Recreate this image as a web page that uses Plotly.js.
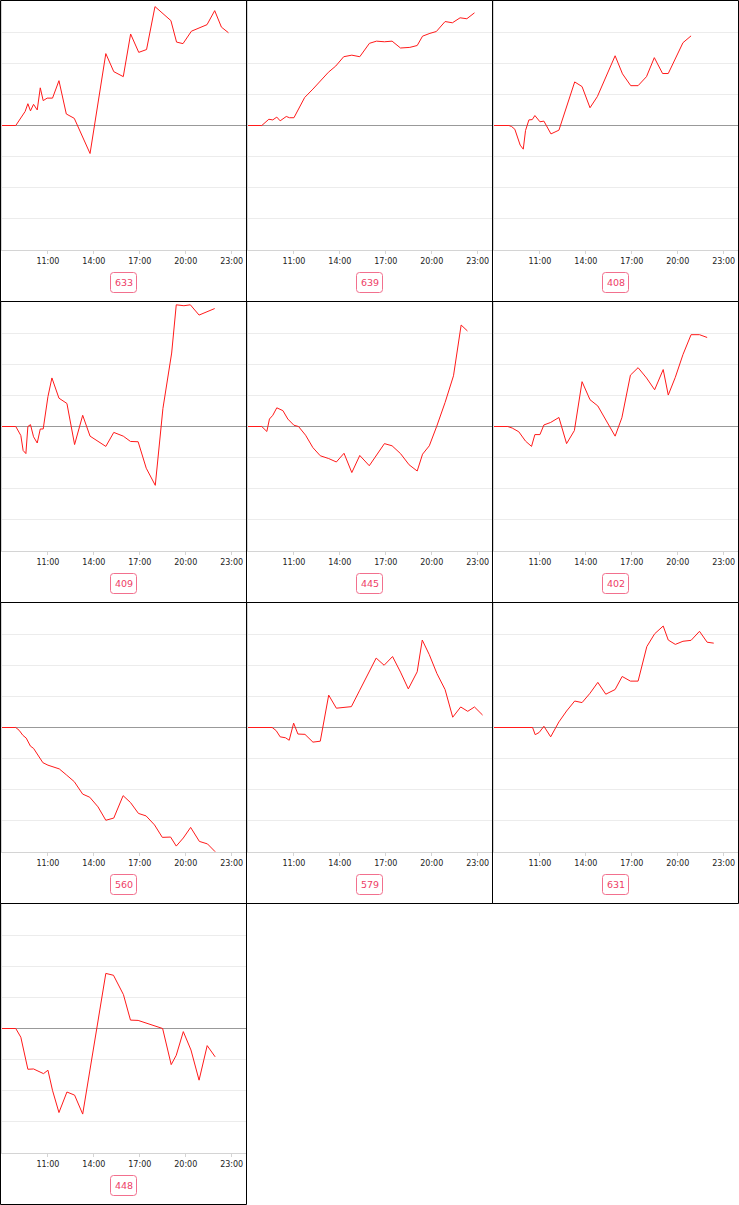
<!DOCTYPE html>
<html><head><meta charset="utf-8">
<script src="https://cdn.plot.ly/plotly-3.0.1.min.js"></script>
<style>html,body{margin:0;padding:0;background:#fff}#chart{width:739px;height:1205px}</style>
</head><body><div id="chart"></div>
<script>
const labels = ['633','639','408','409','445','402','560','579','631','448'];
const tickVals = [11,14,17,20,23];
const tickText = ['11:00','14:00','17:00','20:00','23:00'];

const hours633 = [8.00,8.90,9.51,9.69,9.86,10.06,10.30,10.50,10.69,10.95,11.30,11.72,12.20,12.72,13.75,14.78,15.30,15.92,16.40,16.93,17.44,17.99,19.03,19.40,19.82,20.37,21.39,21.89,22.33,22.79];
const values633 = [0,0,0.45,0.70,0.47,0.68,0.50,1.21,0.80,0.88,0.88,1.44,0.37,0.23,-0.90,2.31,1.73,1.57,2.94,2.35,2.44,3.82,3.37,2.68,2.63,3.03,3.24,3.69,3.16,2.98];

const hours639 = [8.00,8.90,9.36,9.62,9.88,10.10,10.50,10.71,11.00,11.70,12.24,13.25,13.73,14.25,14.78,15.30,15.93,16.39,16.91,17.41,17.96,18.57,19.05,19.40,19.88,20.30,20.87,21.35,21.85,22.29,22.79];
const values639 = [0,0,0.20,0.18,0.27,0.15,0.29,0.25,0.25,0.90,1.17,1.71,1.91,2.21,2.26,2.21,2.64,2.71,2.69,2.71,2.49,2.51,2.57,2.87,2.96,3.02,3.34,3.30,3.46,3.43,3.62];

const hours408 = [8.00,8.97,9.14,9.36,9.71,9.91,10.06,10.28,10.50,10.67,11.00,11.26,11.72,12.24,13.27,13.75,14.27,14.75,15.91,16.39,16.93,17.41,17.96,18.47,19.01,19.38,20.34,20.87];
const values408 = [0,0,-0.03,-0.12,-0.63,-0.76,-0.16,0.18,0.19,0.32,0.12,0.14,-0.27,-0.15,1.40,1.25,0.57,0.93,2.24,1.66,1.28,1.28,1.57,2.18,1.67,1.67,2.66,2.88];

const hours409 = [8.00,8.90,9.23,9.38,9.56,9.69,9.86,10.06,10.30,10.50,10.69,11.00,11.26,11.72,12.24,12.74,13.27,13.75,14.78,15.30,15.92,16.39,16.89,17.42,18.01,18.51,19.08,19.38,19.88,20.30,20.87,21.89];
const values409 = [0,0,-0.29,-0.77,-0.87,0,0.06,-0.33,-0.53,-0.08,-0.08,0.96,1.56,0.91,0.74,-0.58,0.36,-0.31,-0.64,-0.19,-0.31,-0.48,-0.49,-1.34,-1.89,0.58,2.36,3.91,3.88,3.91,3.58,3.79];

const hours445 = [8.00,8.90,9.23,9.40,9.62,9.88,10.28,10.60,11.00,11.30,11.76,12.24,12.72,13.27,13.77,14.27,14.78,15.30,15.92,16.39,16.91,17.41,17.96,18.52,19.05,19.40,19.84,20.32,20.87,21.42,21.92,22.33];
const values445 = [0,0,-0.16,0.24,0.36,0.60,0.51,0.24,0.04,0,-0.28,-0.68,-0.94,-1.03,-1.14,-0.86,-1.48,-0.93,-1.26,-0.94,-0.55,-0.62,-0.87,-1.23,-1.43,-0.89,-0.62,0,0.77,1.63,3.26,3.07];

const hours402 = [8.00,8.90,9.19,9.62,10.06,10.45,10.67,11.00,11.26,11.70,12.24,12.74,13.25,13.75,14.27,14.78,15.91,16.35,16.91,17.41,17.96,18.49,19.05,19.38,19.84,20.34,20.87,21.42,21.92];
const values402 = [0,0,-0.05,-0.17,-0.47,-0.64,-0.26,-0.26,0.05,0.13,0.29,-0.55,-0.13,1.44,0.86,0.66,-0.31,0.28,1.65,1.89,1.56,1.18,1.83,1.01,1.58,2.31,2.95,2.95,2.86];

const hours560 = [8.00,8.90,9.12,9.36,9.58,9.86,10.06,10.30,10.67,11.00,11.26,11.74,12.20,12.72,13.27,13.73,14.27,14.78,15.30,15.91,16.39,16.91,17.41,17.96,18.47,19.01,19.38,19.84,20.32,20.89,21.42,21.92];
const values560 = [0,0,-0.09,-0.25,-0.34,-0.60,-0.67,-0.86,-1.13,-1.21,-1.26,-1.33,-1.52,-1.74,-2.14,-2.24,-2.55,-2.98,-2.91,-2.19,-2.41,-2.76,-2.84,-3.13,-3.53,-3.52,-3.81,-3.55,-3.21,-3.66,-3.74,-3.99];

const hours579 = [8.00,9.58,9.84,10.10,10.45,10.69,10.98,11.26,11.72,12.24,12.72,13.27,13.77,14.75,15.30,16.37,16.89,17.44,17.96,18.47,19.05,19.38,19.84,20.34,20.87,21.37,21.89,22.35,22.79,23.32];
const values579 = [0,0,-0.10,-0.30,-0.33,-0.41,0.14,-0.21,-0.22,-0.47,-0.44,1.04,0.62,0.67,1.20,2.23,2.00,2.28,1.78,1.24,1.79,2.81,2.34,1.73,1.22,0.33,0.66,0.52,0.66,0.40];

const hours631 = [8.00,10.52,10.69,10.95,11.26,11.70,12.24,12.74,13.27,13.75,14.27,14.78,15.30,15.91,16.37,16.91,17.41,17.98,18.49,19.05,19.38,19.84,20.34,20.87,21.42,21.92,22.35];
const values631 = [0,0,-0.23,-0.16,0.04,-0.30,0.18,0.53,0.85,0.80,1.10,1.45,1.07,1.22,1.64,1.49,1.49,2.60,3.01,3.26,2.81,2.67,2.77,2.80,3.09,2.74,2.71];

const hours448 = [8.00,8.90,9.23,9.69,10.06,10.71,11.00,11.30,11.72,12.24,12.74,13.27,14.78,15.28,15.93,16.39,16.89,18.49,19.05,19.38,19.84,20.34,20.87,21.40,21.92];
const values448 = [0,0,-0.28,-1.31,-1.30,-1.45,-1.34,-1.99,-2.70,-2.04,-2.14,-2.75,1.77,1.71,1.09,0.27,0.26,0,-1.16,-0.86,-0.10,-0.69,-1.66,-0.55,-0.91];

const series = [
  [hours633, values633], [hours639, values639], [hours408, values408],
  [hours409, values409], [hours445, values445], [hours402, values402],
  [hours560, values560], [hours579, values579], [hours631, values631],
  [hours448, values448]
];

const W = 739, H = 1205, PW = 246, PH = 301;
const X = p => p / W, Y = p => 1 - p / H;

const traces = [], shapes = [], annotations = [];
const layout = {
  width: W, height: H,
  margin: {l: 0, r: 0, t: 0, b: 0, pad: 0},
  paper_bgcolor: '#fff', plot_bgcolor: '#fff',
  showlegend: false,
  font: {family: 'DejaVu Sans', size: 8, color: '#222'}
};

series.forEach(([xs, ys], i) => {
  const c = i % 3, r = Math.floor(i / 3);
  const x0 = c * PW, y0 = r * PH;
  const sfx = i === 0 ? '' : String(i + 1);
  layout['xaxis' + sfx] = {
    domain: [X(x0 + 2), Math.min(1, X(x0 + 247))],
    range: [8, 24], anchor: 'y' + sfx, fixedrange: true,
    showgrid: false, zeroline: false,
    showline: true, linecolor: '#d4d4d4', linewidth: 1,
    ticks: 'outside', ticklen: 3, tickcolor: '#d4d4d4',
    tickmode: 'array', tickvals: tickVals, ticktext: tickText,
    tickfont: {family: 'DejaVu Sans', size: 8, color: '#222'}
  };
  layout['yaxis' + sfx] = {
    domain: [Y(y0 + 250), Y(y0 + 1)],
    range: [-4, 4], anchor: 'x' + sfx, fixedrange: true,
    tickmode: 'linear', tick0: 0, dtick: 1,
    showgrid: true, gridcolor: '#ececec', gridwidth: 1,
    zeroline: true, zerolinecolor: '#999', zerolinewidth: 1,
    showline: true, linecolor: '#d4d4d4', linewidth: 1,
    showticklabels: false, ticks: ''
  };
  traces.push({
    type: 'scatter', mode: 'lines', x: xs, y: ys,
    xaxis: 'x' + sfx, yaxis: 'y' + sfx,
    line: {color: '#ff1a1a', width: 1}, hoverinfo: 'skip'
  });
  shapes.push({
    type: 'rect', xref: 'paper', yref: 'paper', layer: 'above',
    x0: X(x0 + 0.5), x1: X(x0 + PW + 0.5), y0: Y(y0 + 0.5), y1: Y(y0 + PH + 0.5),
    line: {color: '#000', width: 1}, fillcolor: 'rgba(0,0,0,0)'
  });
  // rounded label box
  const L = x0 + 110.5, R = x0 + 136.5, T = y0 + 272.5, B = y0 + 292.5, rr = 3;
  const path = `M${X(L + rr)},${Y(T)} L${X(R - rr)},${Y(T)} Q${X(R)},${Y(T)} ${X(R)},${Y(T + rr)} ` +
    `L${X(R)},${Y(B - rr)} Q${X(R)},${Y(B)} ${X(R - rr)},${Y(B)} ` +
    `L${X(L + rr)},${Y(B)} Q${X(L)},${Y(B)} ${X(L)},${Y(B - rr)} ` +
    `L${X(L)},${Y(T + rr)} Q${X(L)},${Y(T)} ${X(L + rr)},${Y(T)} Z`;
  shapes.push({
    type: 'path', xref: 'paper', yref: 'paper', layer: 'above', path: path,
    line: {color: '#f2708e', width: 1}, fillcolor: 'rgba(0,0,0,0)'
  });
  annotations.push({
    xref: 'paper', yref: 'paper', x: X(x0 + 123.5), y: Y(y0 + 282.5),
    xanchor: 'center', yanchor: 'middle', showarrow: false,
    text: labels[i], font: {family: 'DejaVu Sans', size: 9.5, color: '#ee3d66'}
  });
});

layout.shapes = shapes;
layout.annotations = annotations;

Plotly.newPlot('chart', traces, layout, {staticPlot: true, displayModeBar: false});
</script>
</body></html>
